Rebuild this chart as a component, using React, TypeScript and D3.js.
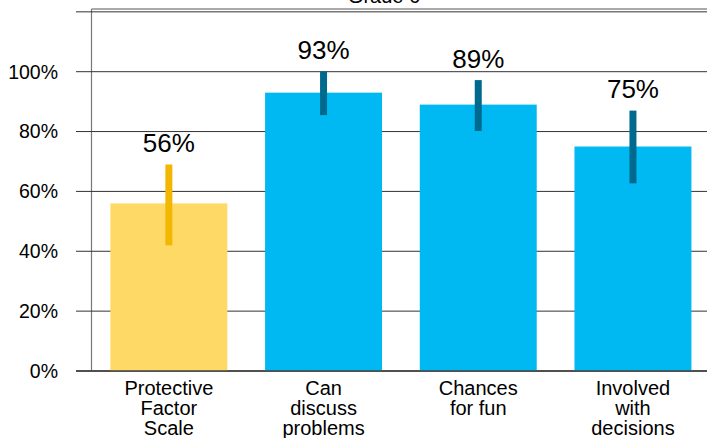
import React, { useEffect, useRef } from "react";
import * as d3 from "d3";

const categories = ["Protective Factor Scale", "Can discuss problems", "Chances for fun", "Involved with decisions"];
const categoryLines = [["Protective", "Factor", "Scale"], ["Can", "discuss", "problems"], ["Chances", "for fun"], ["Involved", "with", "decisions"]];
const values = [56, 93, 89, 75];
const errLow = [42, 85.5, 80.2, 62.7];
const errHigh = [69, 100, 97.2, 87];
const yTicks = [0, 20, 40, 60, 80, 100, 120];
const title = "Grade 6";

export default function App() {
  const ref = useRef<SVGSVGElement>(null);
  useEffect(() => {
    document.body.style.margin = "0";
    const svg = d3.select(ref.current);
    svg.selectAll("*").remove();
    const W = 707, H = 438;
    const left = 91.5, right = 710.3, top = 9, bottom = 371;
    const font = "Liberation Sans, Arial, sans-serif";
    const x = d3.scaleBand<string>().domain(categories).range([left, right]).paddingInner(0.244).paddingOuter(0.122);
    const y = d3.scaleLinear().domain([0, 100]).range([bottom, 71.7]);

    // title
    svg.append("text").attr("x", 384).attr("y", 2.5).attr("text-anchor", "middle")
      .attr("font-family", font).attr("font-size", 20).attr("fill", "#000").text(title);

    // frame
    svg.append("line").attr("x1", left).attr("x2", W).attr("y1", top).attr("y2", top).attr("stroke", "#555").attr("stroke-width", 1);
    svg.append("line").attr("x1", left).attr("x2", left).attr("y1", top).attr("y2", bottom).attr("stroke", "#777").attr("stroke-width", 1.2);

    // gridlines + ticks
    yTicks.forEach((t) => {
      svg.append("line").attr("x1", 76).attr("x2", W).attr("y1", y(t)).attr("y2", y(t))
        .attr("stroke", t === 0 ? "#444" : "#333").attr("stroke-width", t === 0 ? 1.5 : 1);
      if (t <= 100) {
        svg.append("text").attr("x", 58).attr("y", y(t)).attr("dy", "0.35em").attr("text-anchor", "end")
          .attr("font-family", font).attr("font-size", 19.5).attr("fill", "#000").text(`${t}%`);
      }
    });

    // bars
    categories.forEach((c, i) => {
      const bx = x(c)!;
      const bw = x.bandwidth();
      const cx = bx + bw / 2;
      const first = i === 0;
      svg.append("rect").attr("x", bx).attr("y", y(values[i])).attr("width", bw).attr("height", y(0) - y(values[i]))
        .attr("fill", first ? "#FFD966" : "#00B8F2");
      svg.append("line").attr("x1", cx).attr("x2", cx).attr("y1", y(errHigh[i])).attr("y2", y(errLow[i]))
        .attr("stroke", first ? "#F2B700" : "#006A8E").attr("stroke-width", 7);
      svg.append("text").attr("x", cx).attr("y", y(errHigh[i]) - 12.5).attr("text-anchor", "middle")
        .attr("font-family", font).attr("font-size", 26).attr("fill", "#000").text(`${values[i]}%`);
      const t = svg.append("text").attr("text-anchor", "middle").attr("font-family", font).attr("font-size", 20).attr("fill", "#000");
      categoryLines[i].forEach((ln, j) => {
        t.append("tspan").attr("x", cx).attr("y", 395 + j * 20).text(ln);
      });
    });
    // redraw baseline on top
    svg.append("line").attr("x1", 76).attr("x2", W).attr("y1", y(0)).attr("y2", y(0)).attr("stroke", "#444").attr("stroke-width", 1.5);
  }, []);
  return <svg ref={ref} width={707} height={438} style={{ display: "block" }} />;
}
